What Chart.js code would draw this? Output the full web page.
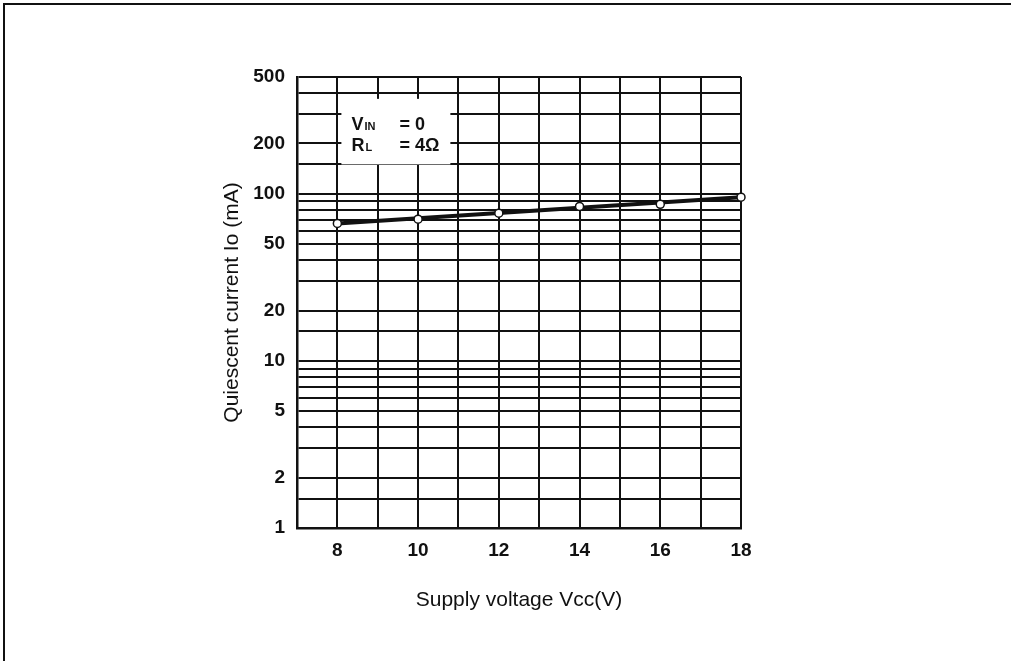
<!DOCTYPE html>
<html>
<head>
<meta charset="utf-8">
<script src="https://cdn.jsdelivr.net/npm/chart.js@4/dist/chart.umd.min.js"></script>
<style>
  html, body { margin: 0; padding: 0; background: #fff; }
  #wrap { position: relative; width: 1011px; height: 661px; overflow: hidden; }
  #frame { position: absolute; left: 3px; top: 3px; right: -10px; bottom: -10px;
           border-left: 2px solid #111; border-top: 2px solid #111; pointer-events: none; }
  canvas { position: absolute; left: 0; top: 0; }
</style>
</head>
<body>
<div id="wrap">
  <canvas id="chart" width="1011" height="661"></canvas>
  <div id="frame"></div>
</div>
<script>
// supply voltage (V) and measured quiescent current (mA)
const voltages = [8, 10, 12, 14, 16, 18];
const currents = [66.5, 70.5, 76.5, 84, 86.5, 95.5];

// log-paper rulings on the current axis, and the ones that carry a label
const currentGrid = [1, 1.5, 2, 3, 4, 5, 6, 7, 8, 9, 10, 15, 20, 30, 40, 50, 60, 70, 80, 90,
                     100, 150, 200, 300, 400, 500];
const currentLabels = [1, 2, 5, 10, 20, 50, 100, 200, 500];
const voltageLabels = [8, 10, 12, 14, 16, 18];

const ink = '#111';
const fontFamily = '"Liberation Sans", Arial, Helvetica, sans-serif';

// conditions box in the upper-left of the grid
const conditionsBox = {
  id: 'conditionsBox',
  afterDraw(chart) {
    const { ctx, scales: { x, y } } = chart;
    const left = x.getPixelForValue(8.1), right = x.getPixelForValue(10.8);
    const top = y.getPixelForValue(370), bottom = y.getPixelForValue(150);
    ctx.save();
    ctx.fillStyle = '#fff';
    ctx.fillRect(left, top, right - left, bottom - top);
    ctx.fillStyle = ink;
    ctx.textBaseline = 'alphabetic';
    const tx = left + 10;
    const row = (y0, main, sub, rest) => {
      ctx.font = 'bold 18px ' + fontFamily;
      ctx.fillText(main, tx, y0);
      let w = ctx.measureText(main).width;
      ctx.font = 'bold 11px ' + fontFamily;
      ctx.fillText(sub, tx + w + 1, y0);
      ctx.font = 'bold 18px ' + fontFamily;
      ctx.fillText(rest, tx + 48, y0);
    };
    const mid = (top + bottom) / 2;
    row(mid - 2, 'V', 'IN', '= 0');
    row(mid + 19, 'R', 'L', '= 4Ω');
    ctx.restore();
  }
};

new Chart(document.getElementById('chart'), {
  type: 'line',
  data: {
    datasets: [
      {
        // open circles at each measurement
        data: voltages.map((v, i) => ({ x: v, y: currents[i] })),
        showLine: false,
        clip: false,
        pointRadius: 4,
        pointBorderWidth: 1.5,
        pointBackgroundColor: '#fff',
        pointBorderColor: ink,
        order: 0
      },
      {
        // straight trace through the end measurements
        data: [
          { x: voltages[0], y: currents[0] },
          { x: voltages[voltages.length - 1], y: currents[currents.length - 1] }
        ],
        borderColor: ink,
        borderWidth: 4,
        pointRadius: 0,
        order: 1
      }
    ]
  },
  options: {
    responsive: false,
    animation: false,
    events: [],
    layout: { padding: { left: 220, top: 77, right: 270, bottom: 48 } },
    plugins: { legend: { display: false }, tooltip: { enabled: false } },
    scales: {
      x: {
        type: 'linear',
        min: 7,
        max: 18,
        afterBuildTicks(scale) {
          const t = [];
          for (let v = 7; v <= 18; v++) t.push({ value: v });
          scale.ticks = t;
        },
        afterFit(scale) { scale.height = 661 - 48 - 77 - 451; },
        grid: { color: ink, lineWidth: 2, drawTicks: false },
        border: { color: ink, width: 2.5 },
        ticks: {
          padding: 11,
          color: ink,
          maxRotation: 0,
          autoSkip: false,
          font: { family: fontFamily, size: 19, weight: 'bold' },
          callback: v => voltageLabels.includes(v) ? String(v) : ''
        },
        title: {
          display: true,
          text: 'Supply voltage Vcc(V)',
          color: ink,
          padding: 0,
          font: { family: fontFamily, size: 21 }
        }
      },
      y: {
        type: 'logarithmic',
        min: 1,
        max: 500,
        afterBuildTicks(scale) {
          scale.ticks = currentGrid.map(v => ({ value: v }));
        },
        afterFit(scale) { scale.width = 77; },
        grid: { color: ink, lineWidth: 2, drawTicks: false },
        border: { color: ink, width: 2.5 },
        ticks: {
          padding: 12,
          color: ink,
          autoSkip: false,
          font: { family: fontFamily, size: 19, weight: 'bold' },
          callback: v => currentLabels.includes(v) ? String(v) : ''
        },
        title: {
          display: true,
          text: 'Quiescent current Io (mA)',
          color: ink,
          padding: 0,
          font: { family: fontFamily, size: 21 }
        }
      }
    }
  },
  plugins: [conditionsBox]
});
</script>
</body>
</html>
